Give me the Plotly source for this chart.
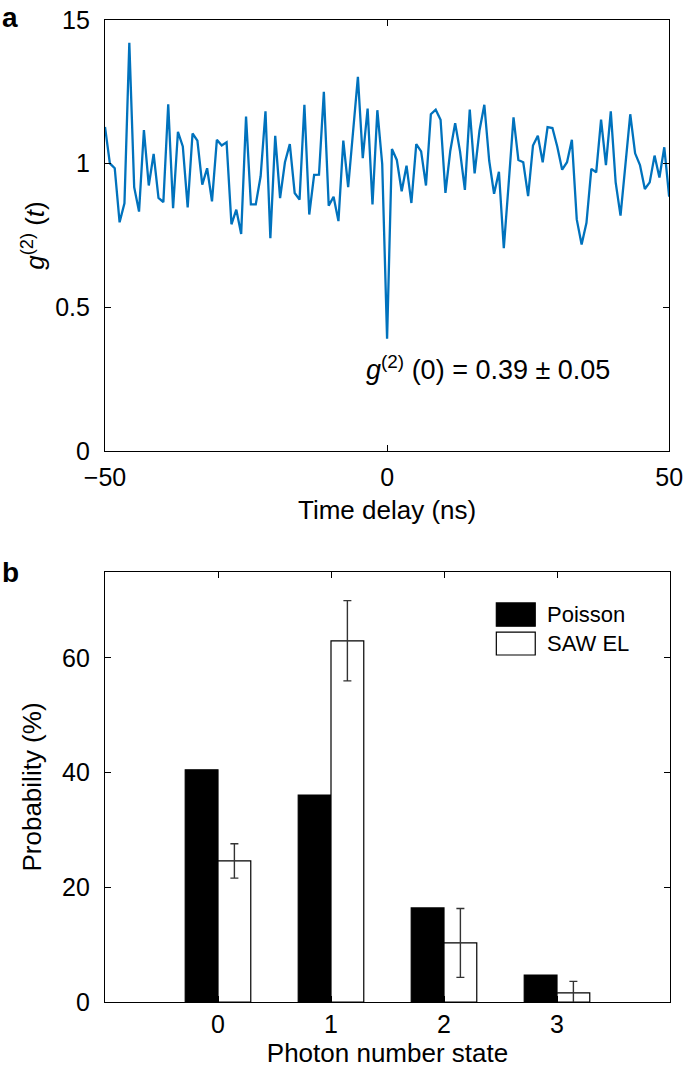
import plotly.graph_objects as go

# ---------------- data: panel a ----------------
g2_values = [
    1.128, 1.001, 0.984, 0.796, 0.862, 1.421, 0.918, 0.833, 1.117, 0.924,
    1.034, 0.881, 0.866, 1.207, 0.845, 1.111, 1.060, 0.848, 1.105, 1.080,
    0.927, 0.984, 0.869, 1.083, 1.063, 1.074, 0.789, 0.840, 0.755, 1.164,
    0.858, 0.858, 0.956, 1.182, 0.741, 1.097, 0.880, 1.005, 1.068, 0.898,
    0.875, 1.205, 0.823, 0.961, 0.962, 1.250, 0.854, 0.885, 0.800, 1.080,
    0.918, 1.110, 1.302, 1.019, 1.192, 0.858, 1.186, 0.999, 0.391, 1.051,
    1.013, 0.904, 0.993, 0.863, 1.068, 1.043, 0.924, 1.172, 1.188, 1.153,
    0.898, 1.045, 1.141, 1.043, 0.909, 1.188, 0.966, 1.115, 1.205, 1.010,
    0.895, 0.972, 0.706, 0.930, 1.161, 1.013, 1.005, 0.887, 1.063, 1.097,
    1.005, 1.127, 1.124, 1.059, 0.979, 1.005, 1.083, 0.806, 0.719, 0.794,
    0.982, 0.970, 1.153, 0.995, 1.182, 0.935, 0.819, 0.995, 1.172, 1.036,
    0.995, 0.912, 0.935, 1.028, 0.952, 1.057, 0.885,
]
time_start = -50.0
time_step = 50.0 / 58.0
x_ticks_a = [-50, 0, 50]
x_ticktext_a = ["\u221250", "0", "50"]
y_ticks_a = [0, 0.5, 1, 1.5]
y_ticktext_a = ["0", "0.5", "1", "15"]

# ---------------- data: panel b ----------------
photon_states = [0, 1, 2, 3]
poisson = [40.5, 36.1, 16.4, 4.7]
saw_el = [24.6, 63.0, 10.3, 1.6]
saw_err = [3.0, 7.0, 6.0, 2.0]
y_ticks_b = [0, 20, 40, 60]

FONT = "Liberation Sans, Arial, Helvetica, sans-serif"
BLUE = "#0072BD"
TICK_SIZE = 25
TITLE_SIZE = 26

fig = go.Figure()

fig.add_trace(go.Scatter(
    y=g2_values, x0=time_start, dx=time_step, mode="lines",
    line=dict(color=BLUE, width=2.3), xaxis="x", yaxis="y", showlegend=False,
))

fig.add_trace(go.Bar(
    x=photon_states, y=poisson, name="Poisson",
    marker=dict(color="black", line=dict(color="black", width=1.2)),
    xaxis="x2", yaxis="y2", showlegend=False,
))
fig.add_trace(go.Bar(
    x=photon_states, y=saw_el, name="SAW EL",
    marker=dict(color="white", line=dict(color="black", width=1.2)),
    error_y=dict(type="data", array=saw_err, color="#333333", thickness=1.4, width=4),
    xaxis="x2", yaxis="y2", showlegend=False,
))

axis_common = dict(
    showline=True, linecolor="black", linewidth=1.2, mirror="ticks",
    ticks="inside", ticklen=6, tickwidth=1.2, tickcolor="black",
    showgrid=False, zeroline=False, automargin=False,
    tickfont=dict(family=FONT, size=TICK_SIZE, color="black"),
    title_font=dict(family=FONT, size=TITLE_SIZE, color="black"),
)

fig.update_layout(
    width=685, height=1071,
    margin=dict(l=105, r=15, t=20, b=69),
    paper_bgcolor="white", plot_bgcolor="white",
    font=dict(family=FONT, size=TICK_SIZE, color="black"),
    bargap=0.42, bargroupgap=0,
    barmode="group",
    xaxis=dict(
        domain=[0, 0.9985], anchor="y", range=[-50, 50],
        tickvals=x_ticks_a, ticktext=x_ticktext_a,
        title=dict(text="Time delay (ns)", standoff=10),
        ticklabelstandoff=4,
        **axis_common,
    ),
    yaxis=dict(
        domain=[0.5611, 1.0], anchor="x", range=[0, 1.5],
        tickvals=y_ticks_a, ticktext=y_ticktext_a,
        title=dict(text="<i>g</i><sup>(2)</sup> (<i>t</i>)", standoff=3),
        ticklabelstandoff=9,
        **axis_common,
    ),
    xaxis2=dict(
        domain=[0, 1.0], anchor="y2", range=[-1, 4],
        tickvals=photon_states, ticktext=[str(v) for v in photon_states],
        title=dict(text="Photon number state", standoff=6),
        ticklabelstandoff=0,
        **axis_common,
    ),
    yaxis2=dict(
        domain=[0, 0.4379], anchor="x2", range=[0, 75],
        tickvals=y_ticks_b, ticktext=[str(v) for v in y_ticks_b],
        title=dict(text="Probability (%)", standoff=12),
        ticklabelstandoff=9,
        **axis_common,
    ),
)

# annotation on panel a
fig.add_annotation(
    x=-4.1, y=0.288, xref="x", yref="y", xanchor="left", yanchor="middle",
    text="<i>g</i><sup>(2)</sup> (0) = 0.39 \u00b1 0.05", showarrow=False,
    font=dict(family=FONT, size=27, color="black"),
)

# panel letters (positions given in page pixels, converted to paper fractions)
plot_h = 1071 - 20 - 69
for letter, ypix, anchor in [("a", 0, "top"), ("b", 572, "middle")]:
    fig.add_annotation(x=-105 / 565, y=(1071 - 69 - ypix) / plot_h,
                       xref="paper", yref="paper",
                       xanchor="left", yanchor=anchor,
                       text="<b>%s</b>" % letter, showarrow=False,
                       font=dict(family=FONT, size=28, color="black"))

# legend (manual, panel b)
legend_items = [("Poisson", "black", 0.874, 0.928), ("SAW EL", "white", 0.807, 0.860)]
for label, fill, y0, y1 in legend_items:
    fig.add_shape(type="rect", xref="x2 domain", yref="y2 domain",
                  x0=0.6926, x1=0.7615, y0=y0, y1=y1,
                  fillcolor=fill, line=dict(color="black", width=1.2))
    fig.add_annotation(x=0.779, y=(y0 + y1) / 2, xref="x2 domain", yref="y2 domain",
                       xanchor="left", yanchor="middle", text=label, showarrow=False,
                       font=dict(family=FONT, size=22, color="black"))

fig.write_html(
    "out.html",
    config={"displayModeBar": False},
    post_script="document.body.style.margin='0';document.body.style.overflow='hidden';",
)
